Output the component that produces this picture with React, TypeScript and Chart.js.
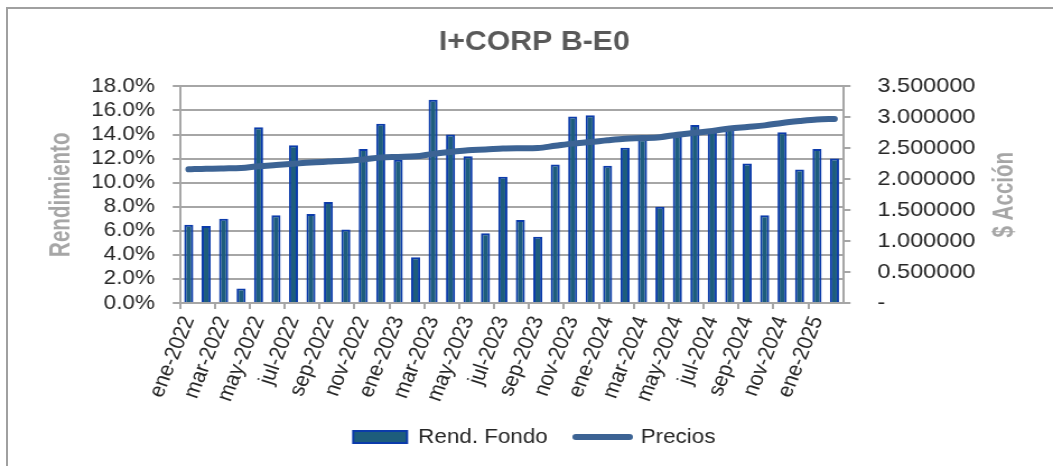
import React, { useEffect, useRef } from 'react';
import { Chart, registerables } from 'chart.js';

Chart.register(...registerables);

// ---- data ----
const months: string[] = [
  'ene-2022', 'feb-2022', 'mar-2022', 'abr-2022', 'may-2022', 'jun-2022', 'jul-2022', 'ago-2022', 'sep-2022', 'oct-2022', 'nov-2022', 'dic-2022',
  'ene-2023', 'feb-2023', 'mar-2023', 'abr-2023', 'may-2023', 'jun-2023', 'jul-2023', 'ago-2023', 'sep-2023', 'oct-2023', 'nov-2023', 'dic-2023',
  'ene-2024', 'feb-2024', 'mar-2024', 'abr-2024', 'may-2024', 'jun-2024', 'jul-2024', 'ago-2024', 'sep-2024', 'oct-2024', 'nov-2024', 'dic-2024',
  'ene-2025', 'feb-2025',
];

const rendFondo: number[] = [
  6.5, 6.4, 7.0, 1.2, 14.6, 7.3, 13.1, 7.4, 8.4, 6.1, 12.8, 14.9,
  11.9, 3.8, 16.9, 14.0, 12.2, 5.8, 10.5, 6.9, 5.5, 11.5, 15.5, 15.6,
  11.4, 12.9, 13.6, 8.0, 13.9, 14.8, 14.3, 14.6, 11.6, 7.3, 14.2, 11.1,
  12.8, 12.0,
];

const precios: number[] = [
  2.16, 2.17, 2.175, 2.18, 2.21, 2.23, 2.25, 2.27, 2.285, 2.30, 2.32, 2.35,
  2.36, 2.37, 2.41, 2.44, 2.47, 2.48, 2.495, 2.50, 2.505, 2.54, 2.575, 2.60,
  2.63, 2.655, 2.665, 2.68, 2.72, 2.75, 2.78, 2.82, 2.845, 2.87, 2.91, 2.94,
  2.965, 2.975,
];

const chartTitle = 'I+CORP B-E0';
const leftAxisTitle = 'Rendimiento';
const rightAxisTitle = '$ Acción';
const seriesNames = ['Rend. Fondo', 'Precios'];

// ---- styling ----
const FONT = '"Liberation Sans", Arial, Helvetica, sans-serif';
const GRID = '#A6A6A6';
const TEXT = '#262626';
const BAR_FILL = '#1D5D7C';
const BAR_BORDER = '#0B3BAA';
const LINE = '#3C6394';

const CW = 940; // internal canvas width (stretched to 1053 by CSS)
const CH = 466;

export default function App() {
  const ref = useRef<HTMLCanvasElement>(null);

  useEffect(() => {
    if (!ref.current) return;
    Chart.defaults.font.family = FONT;

    const axisTitles = {
      id: 'axisTitles',
      afterDraw(chart: any) {
        const { ctx, chartArea } = chart;
        const cy = (chartArea.top + chartArea.bottom) / 2;
        ctx.save();
        ctx.fillStyle = '#A6A6A6';
        ctx.font = `bold 26px ${FONT}`;
        ctx.textAlign = 'center';
        ctx.textBaseline = 'middle';
        const items: [string, number][] = [
          [leftAxisTitle, 54.5],
          [rightAxisTitle, 897.3],
        ];
        items.forEach(([t, x]) => {
          ctx.save();
          ctx.translate(x, cy);
          ctx.rotate(-Math.PI / 2);
          ctx.scale(0.79, 1);
          ctx.fillText(t, 0, 0);
          ctx.restore();
        });
        ctx.restore();
      },
    };

    const chart = new Chart(ref.current, {
      type: 'bar',
      data: {
        labels: months,
        datasets: [
          {
            type: 'bar',
            label: seriesNames[0],
            data: rendFondo,
            yAxisID: 'y',
            backgroundColor: BAR_FILL,
            borderColor: BAR_BORDER,
            borderWidth: 2,
            barPercentage: 0.52,
            categoryPercentage: 1,
            order: 1,
          },
          {
            type: 'line',
            label: seriesNames[1],
            data: precios,
            yAxisID: 'y1',
            borderColor: LINE,
            backgroundColor: LINE,
            borderWidth: 6,
            pointRadius: 0,
            cubicInterpolationMode: 'monotone',
            borderCapStyle: 'round',
            borderJoinStyle: 'round',
            order: 0,
          },
        ],
      } as any,
      options: {
        responsive: false,
        animation: false,
        devicePixelRatio: 1,
        layout: { padding: { left: 14, right: 0, top: 0, bottom: 9 } },
        plugins: {
          title: {
            display: true,
            text: chartTitle,
            color: '#595959',
            font: { family: FONT, size: 27, weight: 'bold' },
            padding: { top: 26, bottom: 28 },
          },
          legend: {
            position: 'bottom',
            labels: {
              usePointStyle: true,
              pointStyleWidth: 48,
              boxHeight: 12,
              padding: 25,
              color: TEXT,
              font: { family: FONT, size: 20 },
              generateLabels: (c: any) => {
                const items = (Chart.defaults.plugins.legend.labels as any).generateLabels(c);
                items.sort((a: any, b: any) => a.datasetIndex - b.datasetIndex);
                items.forEach((it: any) => {
                  if (it.datasetIndex === 0) {
                    it.pointStyle = 'rect';
                    it.fillStyle = BAR_FILL;
                    it.strokeStyle = BAR_BORDER;
                    it.lineWidth = 2;
                  } else {
                    it.pointStyle = 'line';
                    it.strokeStyle = LINE;
                    it.lineWidth = 6;
                    it.lineCap = 'round';
                  }
                });
                return items;
              },
            },
          },
          tooltip: { enabled: false },
        },
        scales: {
          x: {
            offset: true,
            grid: {
              drawOnChartArea: false,
              offset: true,
              drawTicks: true,
              tickLength: 6,
              tickWidth: 2,
              lineWidth: 2,
              color: GRID,
              tickColor: (ctx: any) => (ctx.index % 2 === 0 ? GRID : 'rgba(0,0,0,0)'),
            },
            border: { display: true, color: GRID, width: 2 },
            ticks: {
              autoSkip: false,
              maxRotation: 70,
              minRotation: 70,
              padding: 4,
              color: TEXT,
              font: { family: FONT, size: 20 },
              callback: (_v: any, i: number) => (i % 2 === 0 ? months[i] : ''),
            },
            afterFit: (s: any) => {
              s.height = 99;
            },
          },
          y: {
            position: 'left',
            min: 0,
            max: 18,
            grid: { color: GRID, lineWidth: 2, drawTicks: true, tickLength: 6.5 },
            border: { display: true, color: GRID, width: 2 },
            ticks: {
              autoSkip: false,
              stepSize: 2,
              padding: 16,
              color: TEXT,
              font: { family: FONT, size: 20 },
              callback: (v: any) => Number(v).toFixed(1) + '%',
            },
            afterFit: (s: any) => {
              s.width = 146.7;
            },
          },
          y1: {
            position: 'right',
            min: 0,
            max: 3.5,
            grid: { drawOnChartArea: false, color: GRID, lineWidth: 2, drawTicks: true, tickLength: 6.5 },
            border: { display: true, color: GRID, width: 2 },
            ticks: {
              autoSkip: false,
              stepSize: 0.5,
              padding: 24,
              color: TEXT,
              font: { family: FONT, size: 21 },
              callback: (v: any) => (Number(v) === 0 ? '-' : Number(v).toFixed(6)),
            },
            afterFit: (s: any) => {
              s.width = 187.3;
            },
          },
        },
      } as any,
      plugins: [axisTitles],
    });

    return () => chart.destroy();
  }, []);

  return (
    <div
      style={{
        position: 'fixed',
        left: 0,
        top: 0,
        width: 1053,
        height: 466,
        overflow: 'hidden',
        background: '#fff',
      }}
    >
      <canvas
        ref={ref}
        width={CW}
        height={CH}
        style={{ width: '1053px', height: '466px', display: 'block' }}
      />
      <div
        style={{
          position: 'absolute',
          left: 6,
          top: 7,
          width: 1100,
          height: 500,
          borderLeft: '2px solid #A0A0A0',
          borderTop: '2px solid #A0A0A0',
          pointerEvents: 'none',
        }}
      />
    </div>
  );
}
